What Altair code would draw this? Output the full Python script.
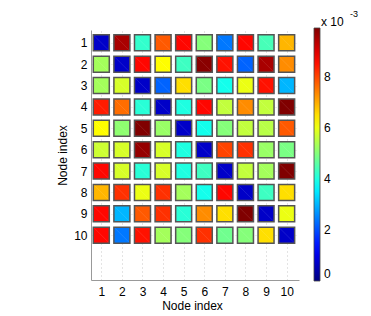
import altair as alt
import pandas as pd

node_labels = list(range(1, 11))

# values in units of 1e-3 (row = y node, col = x node)
row_1 = [0.7, 9.5, 4.2, 7.8, 8.6, 5.0, 2.4, 8.6, 4.4, 6.9]
row_2 = [5.3, 0.7, 8.6, 6.2, 4.3, 9.8, 8.5, 2.2, 9.5, 7.3]
row_3 = [5.3, 5.8, 0.7, 2.2, 6.5, 4.9, 3.9, 6.0, 8.5, 3.0]
row_4 = [8.4, 7.6, 4.1, 0.7, 4.0, 8.6, 5.6, 7.3, 5.6, 9.9]
row_5 = [6.2, 5.1, 9.9, 5.2, 0.7, 3.9, 5.0, 5.6, 5.5, 7.8]
row_6 = [5.7, 5.8, 9.7, 5.8, 4.0, 0.7, 8.0, 8.2, 5.2, 4.9]
row_7 = [8.6, 5.8, 4.1, 5.8, 4.0, 4.3, 0.7, 5.6, 5.3, 9.9]
row_8 = [6.9, 8.2, 6.0, 8.2, 5.3, 3.9, 8.6, 0.7, 4.3, 6.5]
row_9 = [8.6, 3.0, 7.8, 8.2, 4.1, 7.3, 6.5, 9.9, 0.7, 6.0]
row_10 = [8.6, 2.4, 8.5, 5.3, 5.0, 8.2, 4.8, 5.0, 6.5, 0.7]

rows = [row_1, row_2, row_3, row_4, row_5, row_6, row_7, row_8, row_9, row_10]
colorbar_ticks = [0, 0.002, 0.004, 0.006, 0.008]
vmax = 0.0099

records = []
for i, r in enumerate(rows):
    for j, v in enumerate(r):
        records.append({"row": node_labels[i], "col": node_labels[j], "value": v * 1e-3})
df = pd.DataFrame(records)

jet_domain = [0, 0.125 * vmax, 0.375 * vmax, 0.625 * vmax, 0.875 * vmax, vmax]
jet_colors = ["#000080", "#0000ff", "#00ffff", "#ffff00", "#ff0000", "#800000"]

FONT = "Liberation Sans"

x_enc = alt.X(
    "col:Q",
    scale=alt.Scale(domain=[0.5, 10.6], nice=False, zero=False),
    axis=alt.Axis(
        values=node_labels, title="Node index", ticks=False, labelPadding=6,
        labelFontSize=12, titleFontSize=12, titleFontWeight="normal",
        labelFont=FONT, titleFont=FONT, labelColor="#000", titleColor="#000",
        domainColor="#999999", grid=True, gridColor="#c8c8c8", gridDash=[1, 3],
        titleX=101, titleY=29, titleBaseline="alphabetic", labelFlush=False,
        labelOverlap=False,
    ),
)
y_enc = alt.Y(
    "row:Q",
    scale=alt.Scale(domain=[0.4, 12.1], nice=False, zero=False, reverse=True),
    axis=alt.Axis(
        values=node_labels, title="Node index", ticks=False, labelPadding=4,
        labelFontSize=12, titleFontSize=12, titleFontWeight="normal",
        labelFont=FONT, titleFont=FONT, labelColor="#000", titleColor="#000",
        domainColor="#999999", grid=True, gridColor="#dddddd", gridDash=[1, 3],
        titleX=-29, titleY=125, titleAngle=270, titleBaseline="middle", labelFlush=False,
        labelOverlap=False,
    ),
)

squares = alt.Chart(df).mark_square(
    size=256, stroke="#555555", strokeWidth=1.5, opacity=1
).encode(
    x=x_enc,
    y=y_enc,
    color=alt.Color(
        "value:Q",
        scale=alt.Scale(domain=jet_domain, range=jet_colors, interpolate="rgb"),
        legend=alt.Legend(
            orient="none", legendX=223, legendY=-2, direction="vertical",
            gradientLength=253, gradientThickness=6, title=None,
            values=colorbar_ticks, labelExpr="format(datum.value*1000, 'd')",
            labelFontSize=12, labelFont=FONT, labelColor="#000", labelOffset=4,
            labelBaseline="middle", labelOverlap=False,
            gradientStrokeColor="#444444", gradientStrokeWidth=0.8,
        ),
    ),
)

diag = alt.Chart(df).mark_rule(
    xOffset=-7, x2Offset=7, yOffset=-7, y2Offset=7, color="white", opacity=0.1, strokeWidth=1
).encode(x=x_enc, y=y_enc, x2="col:Q", y2="row:Q")

exp_base = alt.Chart(pd.DataFrame({"t": ["x 10"]})).mark_text(
    align="left", baseline="alphabetic", fontSize=12, font=FONT, color="#000"
).encode(text="t:N", x=alt.value(230), y=alt.value(-4))
exp_sup = alt.Chart(pd.DataFrame({"t": ["-3"]})).mark_text(
    align="left", baseline="alphabetic", fontSize=9, font=FONT, color="#000"
).encode(text="t:N", x=alt.value(259), y=alt.value(-13))

chart = alt.layer(squares, diag, exp_base, exp_sup).properties(
    width=208, height=250,
    autosize=alt.AutoSizeParams(type="none"),
    padding={"left": 83, "top": 22, "right": 60, "bottom": 34},
).configure_view(strokeWidth=0)

chart.save("out.html", embed_options={"renderer": "svg", "actions": False})
